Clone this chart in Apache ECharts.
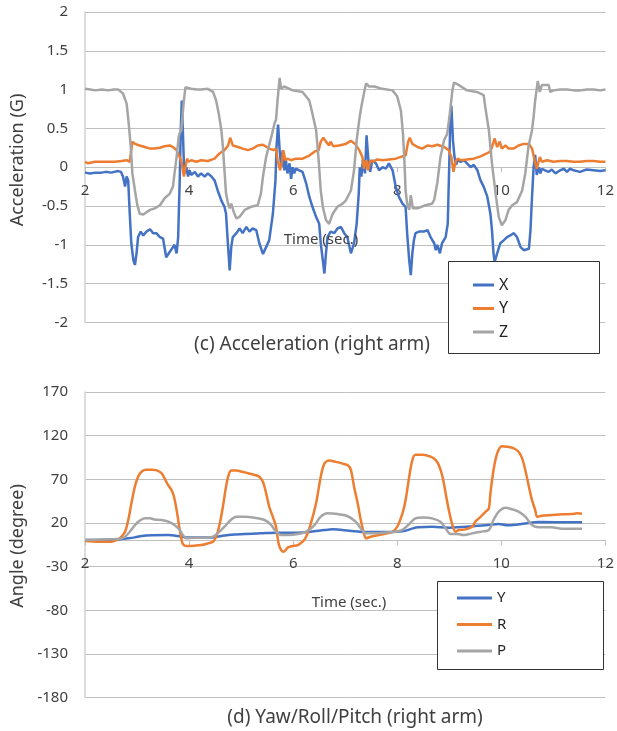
<!DOCTYPE html>
<html>
<head>
<meta charset="utf-8">
<script src="https://cdn.jsdelivr.net/npm/echarts@6/dist/echarts.min.js"></script>
<style>
  html, body { margin: 0; padding: 0; background: #ffffff; }
  #chart { width: 617px; height: 731px; }
</style>
</head>
<body>
<div id="chart"></div>
<script>
// ---- Acceleration of the right arm (G), [time s, value] ----
const accelX = [[2.00,-0.07],[2.10,-0.08],[2.20,-0.07],[2.32,-0.07],[2.40,-0.06],[2.50,-0.07],[2.64,-0.05],[2.69,-0.06],[2.73,-0.12],[2.77,-0.25],[2.80,-0.12],[2.83,-0.17],[2.86,-0.60],[2.89,-0.98],[2.93,-1.20],[2.96,-1.26],[2.99,-1.11],[3.02,-0.90],[3.07,-0.83],[3.12,-0.88],[3.18,-0.83],[3.25,-0.80],[3.31,-0.85],[3.37,-0.85],[3.44,-0.90],[3.50,-0.92],[3.56,-1.16],[3.63,-1.09],[3.69,-1.03],[3.72,-1.00],[3.76,-1.11],[3.79,-0.90],[3.82,-0.17],[3.84,0.48],[3.86,0.86],[3.88,0.48],[3.90,0.05],[3.93,-0.08],[3.95,0.00],[3.98,-0.12],[4.01,-0.04],[4.04,-0.10],[4.11,-0.06],[4.17,-0.12],[4.23,-0.08],[4.30,-0.12],[4.36,-0.08],[4.43,-0.12],[4.49,-0.17],[4.55,-0.30],[4.62,-0.43],[4.68,-0.51],[4.71,-0.60],[4.75,-1.03],[4.78,-1.33],[4.81,-1.03],[4.84,-0.90],[4.91,-0.85],[4.97,-0.79],[5.03,-0.85],[5.10,-0.77],[5.16,-0.83],[5.22,-0.79],[5.29,-0.81],[5.35,-0.98],[5.42,-1.12],[5.48,-1.03],[5.54,-0.94],[5.61,-0.60],[5.66,-0.17],[5.68,0.26],[5.71,0.55],[5.74,0.22],[5.77,0.00],[5.80,0.22],[5.83,-0.04],[5.86,0.09],[5.89,-0.08],[5.93,0.05],[5.96,-0.15],[5.99,0.00],[6.02,-0.08],[6.05,-0.02],[6.12,-0.04],[6.18,-0.06],[6.25,-0.21],[6.31,-0.38],[6.37,-0.51],[6.44,-0.64],[6.50,-0.73],[6.53,-0.98],[6.57,-1.20],[6.60,-1.37],[6.63,-1.11],[6.66,-0.90],[6.72,-0.83],[6.79,-0.85],[6.85,-0.79],[6.92,-0.77],[6.98,-0.85],[7.04,-0.90],[7.11,-1.11],[7.17,-0.98],[7.22,-0.73],[7.26,-0.34],[7.28,0.00],[7.31,-0.12],[7.34,0.09],[7.38,-0.08],[7.41,0.41],[7.45,0.05],[7.48,-0.06],[7.52,0.09],[7.59,0.05],[7.65,-0.04],[7.72,0.00],[7.78,-0.02],[7.84,0.05],[7.91,-0.04],[7.97,-0.25],[8.03,-0.38],[8.10,-0.47],[8.16,-0.51],[8.19,-0.85],[8.23,-1.20],[8.26,-1.39],[8.29,-1.11],[8.32,-0.94],[8.35,-0.85],[8.42,-0.83],[8.51,-0.83],[8.58,-0.81],[8.64,-0.90],[8.71,-0.98],[8.74,-1.07],[8.77,-1.00],[8.82,-1.11],[8.86,-0.98],[8.93,-0.90],[8.97,-0.73],[9.00,0.05],[9.02,0.61],[9.04,0.79],[9.07,0.35],[9.10,0.13],[9.13,0.03],[9.16,0.09],[9.22,0.07],[9.28,0.09],[9.34,0.05],[9.41,0.00],[9.47,0.03],[9.54,-0.04],[9.60,-0.17],[9.66,-0.25],[9.73,-0.38],[9.79,-0.60],[9.82,-0.81],[9.85,-1.11],[9.87,-1.22],[9.92,-1.11],[9.98,-0.98],[10.05,-0.94],[10.11,-0.90],[10.17,-0.88],[10.24,-0.85],[10.30,-0.90],[10.37,-1.03],[10.43,-1.07],[10.53,-1.05],[10.56,-0.81],[10.59,-0.38],[10.62,0.00],[10.65,0.16],[10.68,-0.10],[10.72,0.00],[10.75,-0.08],[10.78,-0.02],[10.84,-0.04],[10.91,-0.06],[10.97,-0.03],[11.04,-0.08],[11.13,-0.04],[11.20,-0.02],[11.26,-0.06],[11.32,-0.02],[11.39,-0.04],[11.51,-0.06],[11.64,-0.03],[11.77,-0.04],[11.90,-0.05],[12.00,-0.04]];

const accelY = [[2.00,0.07],[2.06,0.05],[2.19,0.07],[2.38,0.07],[2.57,0.07],[2.70,0.08],[2.80,0.09],[2.86,0.07],[2.91,0.33],[2.96,0.30],[3.05,0.28],[3.15,0.26],[3.25,0.24],[3.34,0.24],[3.44,0.25],[3.53,0.27],[3.63,0.28],[3.69,0.26],[3.76,0.22],[3.82,0.13],[3.86,0.05],[3.90,-0.12],[3.93,0.00],[3.96,0.11],[3.99,0.07],[4.04,0.09],[4.14,0.07],[4.23,0.09],[4.36,0.08],[4.49,0.11],[4.59,0.18],[4.68,0.22],[4.75,0.28],[4.79,0.38],[4.84,0.28],[4.94,0.26],[5.03,0.24],[5.13,0.22],[5.22,0.24],[5.32,0.28],[5.42,0.29],[5.54,0.24],[5.62,0.22],[5.67,0.24],[5.70,0.09],[5.75,-0.04],[5.79,0.09],[5.81,0.22],[5.85,0.09],[5.89,0.11],[5.96,0.09],[6.05,0.11],[6.18,0.11],[6.31,0.15],[6.41,0.20],[6.49,0.22],[6.53,0.33],[6.58,0.38],[6.63,0.33],[6.69,0.28],[6.72,0.33],[6.77,0.27],[6.88,0.28],[7.01,0.30],[7.11,0.34],[7.19,0.30],[7.27,0.22],[7.33,0.13],[7.36,-0.02],[7.40,0.09],[7.44,-0.04],[7.48,0.09],[7.52,0.07],[7.62,0.10],[7.72,0.09],[7.84,0.10],[7.97,0.11],[8.10,0.14],[8.16,0.15],[8.21,0.33],[8.24,0.38],[8.29,0.30],[8.39,0.26],[8.48,0.24],[8.58,0.28],[8.67,0.27],[8.77,0.29],[8.90,0.26],[8.99,0.22],[9.04,0.13],[9.08,-0.06],[9.12,0.07],[9.16,0.11],[9.22,0.09],[9.34,0.10],[9.47,0.11],[9.60,0.14],[9.73,0.18],[9.79,0.20],[9.84,0.30],[9.87,0.37],[9.92,0.26],[9.97,0.33],[10.01,0.24],[10.08,0.28],[10.14,0.24],[10.24,0.24],[10.33,0.28],[10.43,0.30],[10.53,0.30],[10.59,0.24],[10.64,0.09],[10.68,-0.02],[10.74,0.13],[10.78,0.07],[10.88,0.09],[11.00,0.07],[11.13,0.08],[11.26,0.08],[11.39,0.07],[11.51,0.07],[11.64,0.08],[11.77,0.08],[11.90,0.07],[12.00,0.07]];

const accelZ = [[2.00,1.01],[2.10,1.00],[2.20,0.99],[2.32,1.00],[2.45,0.99],[2.55,1.00],[2.64,1.00],[2.73,0.95],[2.80,0.82],[2.84,0.56],[2.88,0.26],[2.91,-0.08],[2.96,-0.30],[3.00,-0.47],[3.05,-0.60],[3.12,-0.61],[3.25,-0.55],[3.34,-0.53],[3.44,-0.49],[3.53,-0.40],[3.63,-0.34],[3.69,-0.25],[3.72,-0.08],[3.76,0.13],[3.80,0.39],[3.82,0.44],[3.85,0.47],[3.90,0.86],[3.93,1.03],[4.04,1.01],[4.15,1.00],[4.23,1.00],[4.36,1.01],[4.46,0.97],[4.52,0.86],[4.57,0.69],[4.62,0.48],[4.65,0.26],[4.68,-0.04],[4.71,-0.34],[4.75,-0.47],[4.78,-0.53],[4.81,-0.47],[4.86,-0.58],[4.91,-0.66],[4.97,-0.64],[5.07,-0.55],[5.19,-0.51],[5.32,-0.49],[5.38,-0.34],[5.42,-0.12],[5.48,0.13],[5.58,0.39],[5.64,0.56],[5.67,0.61],[5.70,0.86],[5.74,1.15],[5.77,1.01],[5.83,1.04],[5.99,0.99],[6.18,0.97],[6.31,0.86],[6.37,0.69],[6.44,0.48],[6.49,0.09],[6.53,-0.30],[6.57,-0.51],[6.63,-0.68],[6.69,-0.73],[6.76,-0.60],[6.85,-0.51],[6.95,-0.47],[7.01,-0.43],[7.11,-0.30],[7.17,-0.04],[7.22,0.35],[7.27,0.61],[7.31,0.78],[7.36,0.95],[7.40,1.08],[7.46,1.04],[7.56,1.04],[7.71,1.01],[7.91,0.99],[8.00,0.91],[8.07,0.73],[8.11,0.43],[8.14,0.05],[8.16,-0.30],[8.19,-0.47],[8.23,-0.55],[8.26,-0.36],[8.30,-0.53],[8.39,-0.53],[8.54,-0.49],[8.67,-0.47],[8.71,-0.42],[8.77,-0.20],[8.83,0.13],[8.90,0.35],[8.96,0.43],[9.01,0.69],[9.06,0.99],[9.09,1.09],[9.18,1.06],[9.34,0.99],[9.53,0.97],[9.66,0.93],[9.69,0.78],[9.76,0.48],[9.82,0.05],[9.89,-0.34],[9.95,-0.64],[10.01,-0.75],[10.08,-0.68],[10.14,-0.55],[10.21,-0.49],[10.30,-0.45],[10.40,-0.30],[10.46,-0.08],[10.52,0.26],[10.59,0.48],[10.62,0.65],[10.65,0.86],[10.70,1.11],[10.74,0.97],[10.78,1.06],[10.91,1.06],[10.94,0.97],[11.00,0.99],[11.13,1.00],[11.26,1.00],[11.40,0.99],[11.52,0.99],[11.65,1.00],[11.77,1.00],[11.90,0.99],[12.00,1.00]];

// ---- Yaw / Roll / Pitch of the right arm (degree), [time s, value] ----
const angleYaw = [[2.00,0.5],[2.64,1.2],[2.83,2.4],[2.96,3.5],[3.09,5.0],[3.28,5.8],[3.60,6.2],[3.79,5.0],[3.92,3.5],[4.17,3.5],[4.43,3.5],[4.62,5.0],[4.81,6.6],[5.07,7.3],[5.38,8.1],[5.70,8.9],[6.02,8.9],[6.34,10.0],[6.60,11.9],[6.76,12.7],[7.08,11.1],[7.40,9.6],[7.78,9.6],[8.10,10.4],[8.30,13.8],[8.40,15.0],[8.67,15.7],[8.99,14.6],[9.31,15.7],[9.70,17.3],[9.95,18.8],[10.14,17.3],[10.46,19.5],[10.72,21.0],[11.55,20.7]];

const angleRoll = [[2.00,-0.7],[2.26,-1.5],[2.51,-1.5],[2.64,1.2],[2.70,4.3],[2.77,10],[2.83,23],[2.89,42],[2.96,62],[3.02,73],[3.09,79],[3.18,81],[3.28,81],[3.37,80.5],[3.47,77],[3.53,71],[3.60,63],[3.66,58],[3.71,50],[3.76,35],[3.81,16],[3.85,2.4],[3.88,-4],[3.95,-6.4],[4.11,-6],[4.24,-5.3],[4.36,-3.4],[4.46,-1.5],[4.52,4.3],[4.59,19.5],[4.65,38.6],[4.71,61.6],[4.76,75],[4.81,80],[4.91,80],[5.00,79],[5.13,77],[5.26,75],[5.35,73],[5.42,67],[5.48,54],[5.54,38.6],[5.61,27],[5.67,15.7],[5.72,-3.4],[5.77,-11],[5.82,-13],[5.90,-8],[5.99,-6.4],[6.09,-5.3],[6.18,-1.5],[6.25,4.3],[6.34,19.5],[6.44,42.5],[6.53,73],[6.60,88],[6.69,91.5],[6.82,90],[6.95,88],[7.05,86],[7.11,80.6],[7.17,61.6],[7.24,42.5],[7.30,23],[7.36,8],[7.40,2.4],[7.49,4.3],[7.65,6.2],[7.81,8.1],[7.91,10],[8.00,15.7],[8.10,31],[8.16,46],[8.23,73],[8.29,92],[8.35,98],[8.48,98],[8.64,96],[8.74,92],[8.80,86],[8.87,73],[8.93,54],[8.99,35],[9.06,17.6],[9.12,10],[9.18,12],[9.31,12.7],[9.44,15.7],[9.50,21.5],[9.60,27],[9.70,33],[9.76,36.7],[9.79,54],[9.85,80.6],[9.92,99.7],[10.01,108],[10.11,107.4],[10.24,105.5],[10.33,101.6],[10.40,94],[10.46,80.6],[10.53,61.6],[10.59,46],[10.65,35],[10.69,27],[10.78,28.3],[10.97,29],[11.16,29.9],[11.36,30.2],[11.45,31],[11.55,30.6]];

const anglePitch = [[2.00,0.5],[2.32,1.2],[2.64,1.6],[2.77,4.3],[2.86,10],[2.96,17.6],[3.05,22.6],[3.15,25.3],[3.25,25.3],[3.34,24],[3.47,23.4],[3.60,21.5],[3.72,17.6],[3.82,11.9],[3.88,6.2],[3.95,2.4],[4.11,3.1],[4.30,3.1],[4.46,4.3],[4.55,8.1],[4.68,15.7],[4.81,24],[4.91,27.2],[5.07,27.2],[5.26,26],[5.45,23.4],[5.58,17.6],[5.67,10],[5.77,6.2],[5.90,6.2],[6.09,7.3],[6.25,10],[6.41,17.6],[6.53,27.2],[6.66,31],[6.85,30.2],[7.04,28],[7.20,21.5],[7.30,13.8],[7.40,8.1],[7.59,8.1],[7.78,9.2],[7.97,10],[8.10,12],[8.23,18.8],[8.35,25.3],[8.51,26.4],[8.67,25.3],[8.83,21.5],[8.93,13.8],[9.02,7.3],[9.15,7.3],[9.28,6.2],[9.44,8.1],[9.60,10],[9.76,12],[9.85,23.4],[9.95,33],[10.08,37.5],[10.21,35.6],[10.33,33],[10.46,27.2],[10.59,17.6],[10.72,15],[10.97,15],[11.16,13.4],[11.55,13.4]];

// ---- axis ticks ----
const timeTicks = [2, 4, 6, 8, 10, 12];
const accelTicks = [-2, -1.5, -1, -0.5, 0, 0.5, 1, 1.5, 2];
const angleTicks = [-180, -130, -80, -30, 20, 70, 120, 170];

const FONT = '"Noto Sans", "DejaVu Sans", sans-serif';
const TEXT = '#404040';
const LABEL = '#404040';
const GRID_LINE = '#bfbfbf';
const BLUE = '#4472C4', ORANGE = '#ED7D31', GRAY = '#A5A5A5';

// plot areas (px)
const grids = [
  { left: 85, top: 12, width: 523, height: 310.4 },
  { left: 85, top: 392, width: 523, height: 305.6 }
];

// time axis drawn across the value 0 of its panel
function timeAxis(gridIndex, ticks) {
  const lo = ticks[0], hi = ticks[ticks.length - 1];
  const zeroOffset = -grids[gridIndex].height * (0 - lo) / (hi - lo);
  return {
    type: 'value', gridIndex, position: 'bottom', offset: zeroOffset,
    min: timeTicks[0], max: timeTicks[timeTicks.length - 1], interval: 2,
    axisLine: { show: true, onZero: false, lineStyle: { color: GRID_LINE, width: 1 } },
    axisTick: { show: true, length: 5, lineStyle: { color: GRID_LINE } },
    axisLabel: { margin: 16, fontSize: 15, color: LABEL, fontFamily: FONT },
    splitLine: { show: false }
  };
}

function valueAxis(gridIndex, ticks) {
  return {
    type: 'value', gridIndex,
    min: ticks[0], max: ticks[ticks.length - 1],
    axisLine: { show: true, onZero: false, lineStyle: { color: '#d0d0d0', width: 1.5 } },
    axisTick: { show: false, customValues: ticks },
    axisLabel: { margin: 17, fontSize: 15, color: LABEL, fontFamily: FONT, customValues: ticks },
    splitLine: { show: true, lineStyle: { color: GRID_LINE, width: 1 } }
  };
}

function lineSeries(name, data, color, xi, yi, smooth) {
  return {
    name, type: 'line', xAxisIndex: xi, yAxisIndex: yi,
    data, showSymbol: false, smooth: smooth || false,
    lineStyle: { color, width: 2.5 }, itemStyle: { color },
    emphasis: { disabled: true }, animation: false, z: 3
  };
}

const chart = echarts.init(document.getElementById('chart'), null, { renderer: 'canvas' });

chart.setOption({
  animation: false,
  backgroundColor: '#ffffff',
  textStyle: { fontFamily: FONT },
  grid: grids,
  xAxis: [timeAxis(0, accelTicks), timeAxis(1, angleTicks)],
  yAxis: [valueAxis(0, accelTicks), valueAxis(1, angleTicks)],
  legend: [
    {
      orient: 'vertical', left: 473, top: 276, padding: 0,
      itemWidth: 21, itemHeight: 3, itemGap: 5.5, itemTextGap: 13,
      icon: 'rect', data: ['X', 'Y', 'Z'], z: 20,
      textStyle: { fontSize: 16, color: '#262626', lineHeight: 18, fontFamily: FONT },
      selectedMode: false
    },
    {
      orient: 'vertical', left: 457, top: 589, padding: 0,
      itemWidth: 35, itemHeight: 3, itemGap: 8.5, itemTextGap: 14,
      icon: 'rect', data: ['Yaw', 'R', 'P'], z: 20,
      formatter: n => (n === 'Yaw' ? 'Y' : n),
      textStyle: { fontSize: 15, color: '#262626', lineHeight: 18, fontFamily: FONT },
      selectedMode: false
    }
  ],
  graphic: [
    { type: 'rect', z: 10, shape: { x: 448.5, y: 261.5, width: 151, height: 92 },
      style: { fill: '#ffffff', stroke: '#333333', lineWidth: 1 } },
    { type: 'rect', z: 10, shape: { x: 437.5, y: 581.5, width: 166, height: 88 },
      style: { fill: '#ffffff', stroke: '#333333', lineWidth: 1 } },
    { type: 'text', x: 18, y: 160, rotation: Math.PI / 2, z: 10,
      style: { text: 'Acceleration (G)', fontSize: 18, fill: TEXT, fontFamily: FONT, align: 'center', verticalAlign: 'middle' } },
    { type: 'text', x: 18, y: 546, rotation: Math.PI / 2, z: 10,
      style: { text: 'Angle (degree)', fontSize: 18, fill: TEXT, fontFamily: FONT, align: 'center', verticalAlign: 'middle' } },
    { type: 'text', x: 321, y: 240, z: 10,
      style: { text: 'Time (sec.)', fontSize: 15, fill: TEXT, fontFamily: FONT, align: 'center', verticalAlign: 'middle' } },
    { type: 'text', x: 349, y: 603, z: 10,
      style: { text: 'Time (sec.)', fontSize: 15, fill: TEXT, fontFamily: FONT, align: 'center', verticalAlign: 'middle' } },
    { type: 'text', x: 312, y: 345, z: 10,
      style: { text: '(c) Acceleration (right arm)', fontSize: 19, fill: TEXT, fontFamily: FONT, align: 'center', verticalAlign: 'middle' } },
    { type: 'text', x: 355, y: 718, z: 10,
      style: { text: '(d) Yaw/Roll/Pitch (right arm)', fontSize: 19, fill: TEXT, fontFamily: FONT, align: 'center', verticalAlign: 'middle' } }
  ],
  series: [
    lineSeries('X', accelX, BLUE, 0, 0),
    lineSeries('Y', accelY, ORANGE, 0, 0),
    lineSeries('Z', accelZ, GRAY, 0, 0),
    lineSeries('Yaw', angleYaw, BLUE, 1, 1, 0.3),
    lineSeries('R', angleRoll, ORANGE, 1, 1, 0.3),
    lineSeries('P', anglePitch, GRAY, 1, 1, 0.3)
  ]
});
</script>
</body>
</html>
